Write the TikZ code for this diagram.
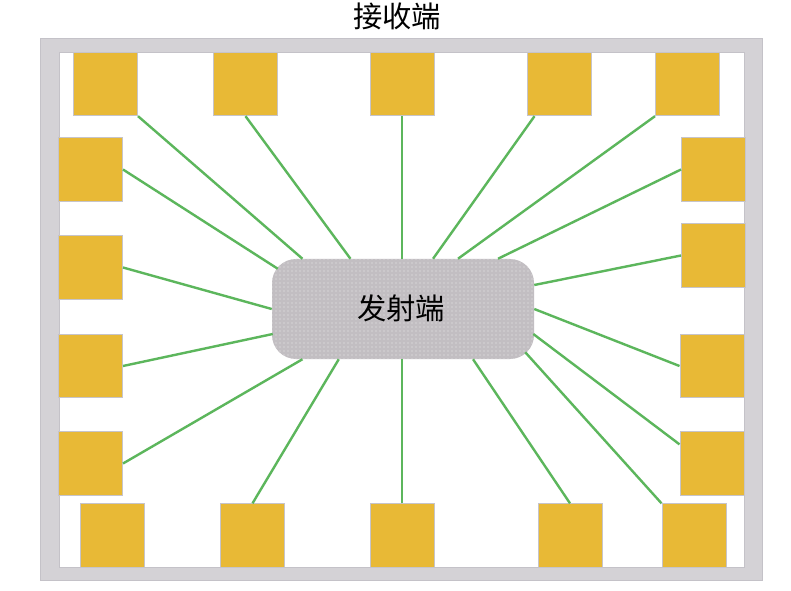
\documentclass[tikz,border=0pt]{standalone}
\usepackage{fontspec}
\newfontfamily\cjk{Noto Sans CJK SC}
\usetikzlibrary{calc,patterns}
\definecolor{padfill}{RGB}{232,185,54}
\definecolor{padedge}{RGB}{198,196,202}
\definecolor{framefill}{RGB}{212,210,214}
\definecolor{frameedge}{RGB}{196,194,200}
\definecolor{txfill}{RGB}{194,190,194}
\definecolor{linkgreen}{RGB}{92,182,92}
\begin{document}
\begin{tikzpicture}[x=0.75pt,y=-0.75pt,
  pad/.style={draw=padedge,fill=padfill,line width=0.75pt,inner sep=0pt,minimum width=48pt,minimum height=47.5pt},
  txbox/.style={fill=txfill,rounded corners=18pt,inner sep=0pt,minimum width=196.5pt,minimum height=75pt,
    postaction={pattern=dots,pattern color=white!70!txfill}},
  link/.style={draw=linkgreen,line width=1.8pt},
  cjklabel/.style={font=\cjk\fontsize{22}{26}\selectfont,inner sep=0pt}]
\useasboundingbox (0,0) rectangle (791,591);

\fill[framefill,draw=frameedge,line width=0.75pt] (40,39) rectangle (762,580);
\fill[white,draw=frameedge,line width=0.5pt] (59,52) rectangle (744,567);

\node[cjklabel] (rx) at (397,16) {接收端};

\node[pad] (t1) at (105.5,84) {};
\node[pad] (t2) at (245.5,84) {};
\node[pad] (t3) at (402,84) {};
\node[pad] (t4) at (559,84) {};
\node[pad] (t5) at (687.5,84) {};

\node[pad] (l1) at (90.5,169.5) {};
\node[pad] (l2) at (90.5,267.5) {};
\node[pad] (l3) at (90.5,366) {};
\node[pad] (l4) at (90.5,463.5) {};

\node[pad] (r1) at (713.5,169.5) {};
\node[pad] (r2) at (713.5,255.5) {};
\node[pad] (r3) at (712,366) {};
\node[pad] (r4) at (712,463.5) {};

\node[pad] (b1) at (112.5,535.5) {};
\node[pad] (b2) at (252.5,535.5) {};
\node[pad] (b3) at (402,535.5) {};
\node[pad] (b4) at (570,535.5) {};
\node[pad] (b5) at (694,535.5) {};

\node[txbox] (tx) at (403,309) {};
\node[cjklabel] (txlabel) at (401,308) {发射端};

\draw[link] (t1.south east) -- ($(tx.north west)+(30.7,0)$);
\draw[link] (t2.south) -- ($(tx.north west)+(78.7,0)$);
\draw[link] (t3.south) -- (t3.south |- tx.north);
\draw[link] ($(t4.south west)+(8,0)$) -- ($(tx.north west)+(161.3,0)$);
\draw[link] (t5.south west) -- ($(tx.north west)+(186.3,0)$);

\draw[link] (r1.west) -- ($(tx.north west)+(226.3,0)$);
\draw[link] (r2.west) -- ($(tx.east)+(0,-24)$);
\draw[link] (r3.west) -- (tx.east);
\draw[link] ($(r4.north west)+(0,13)$) -- ($(tx.east)+(-1,25)$);

\draw[link] (l1.east) -- ($(tx.north west)+(6,10)$);
\draw[link] (l2.east) -- (tx.west);
\draw[link] (l3.east) -- ($(tx.west)+(1,25)$);
\draw[link] (l4.east) -- ($(tx.south west)+(30.7,0)$);

\draw[link] (b2.north) -- ($(tx.south west)+(67,0)$);
\draw[link] (b3.north) -- (b3.north |- tx.south);
\draw[link] (b4.north) -- ($(tx.south west)+(201.3,0)$);
\draw[link] (b5.north west) -- ($(tx.south east)+(-9,-7)$);
\end{tikzpicture}
\end{document}
